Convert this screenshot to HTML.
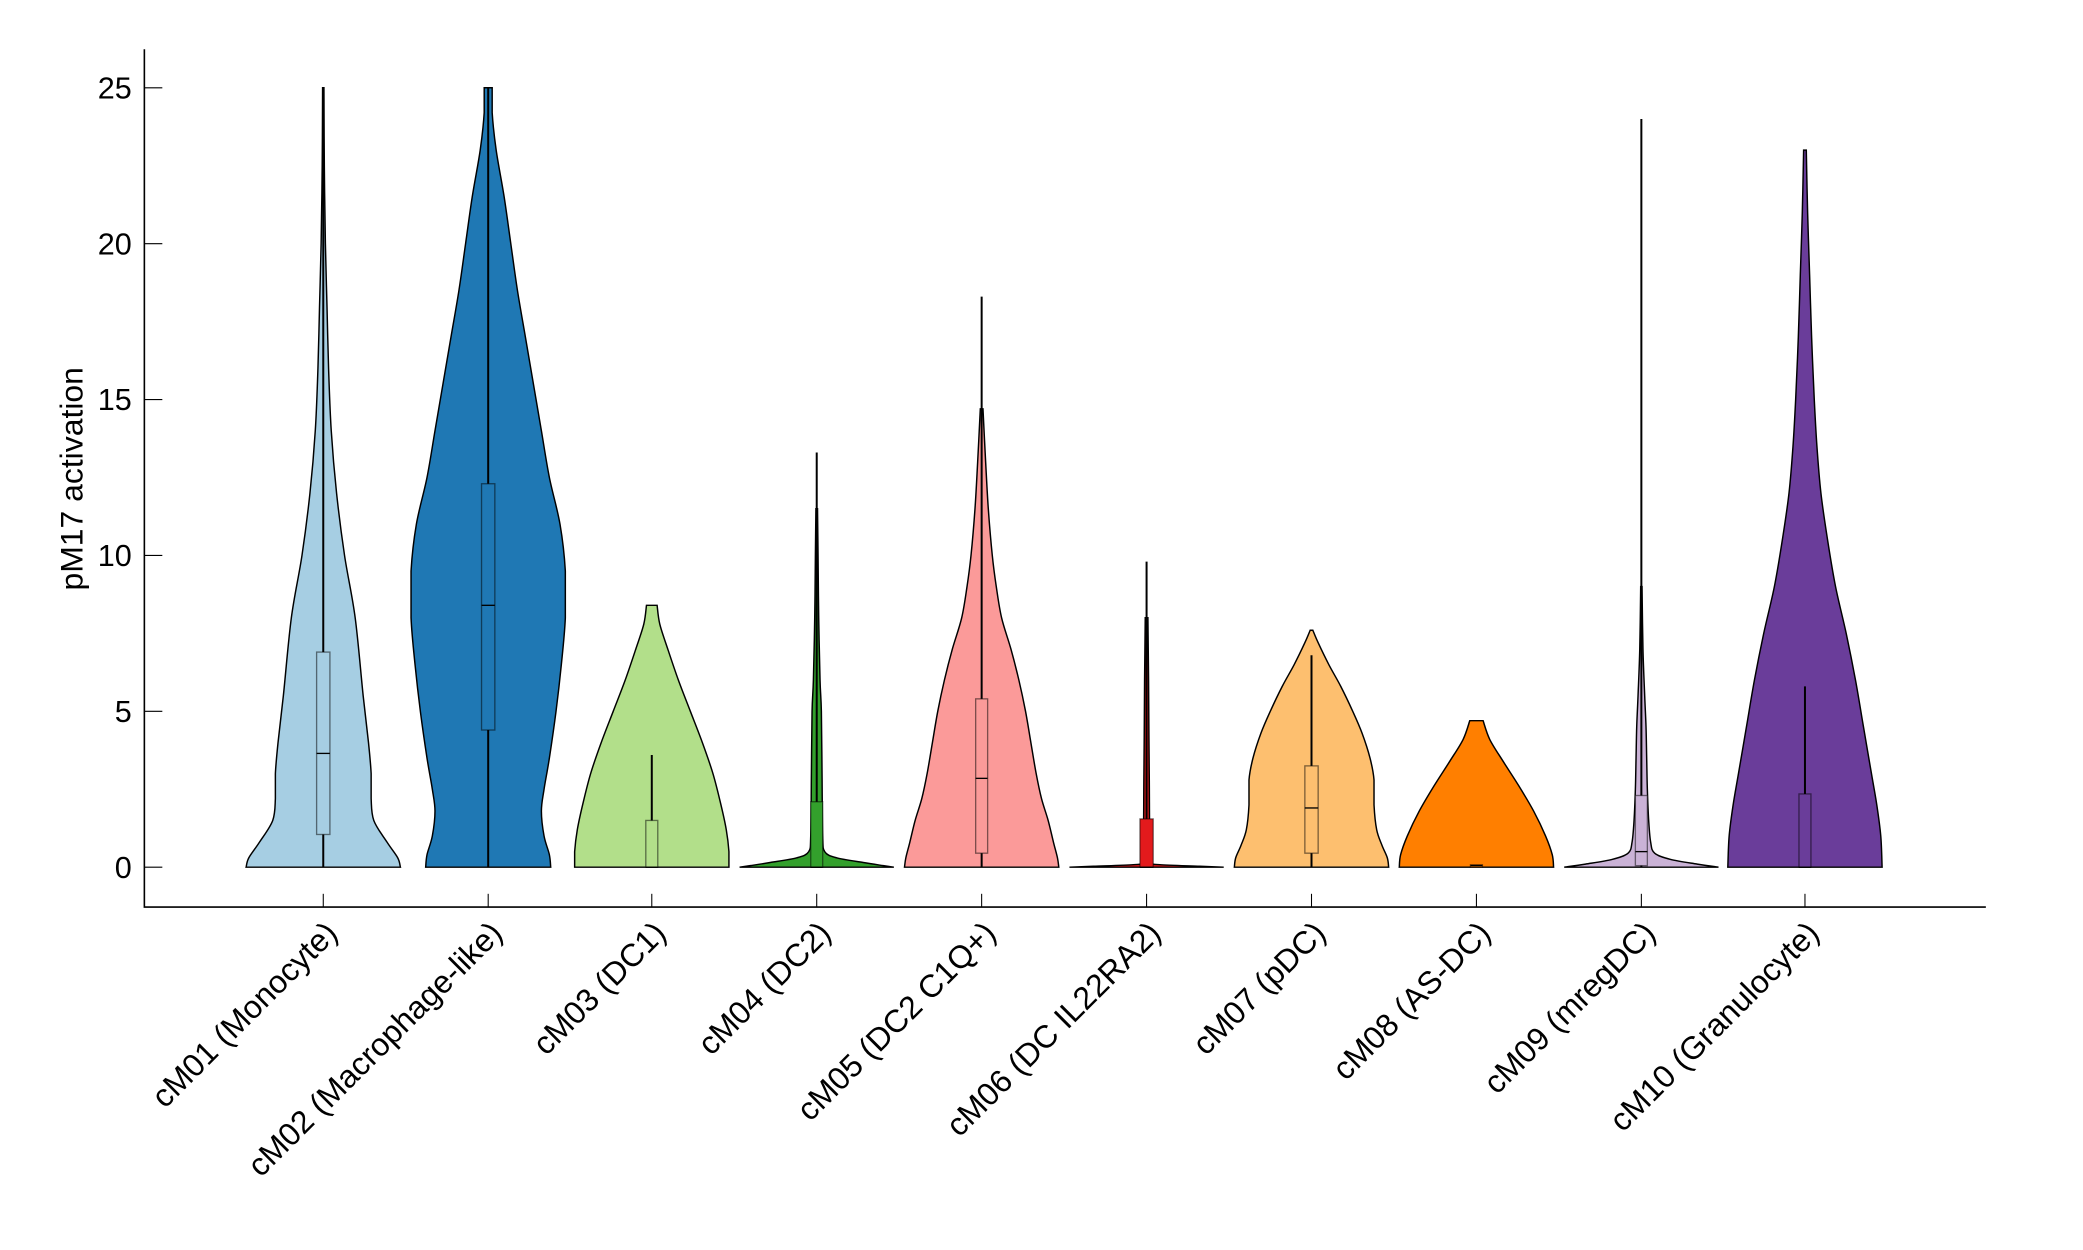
<!DOCTYPE html>
<html><head><meta charset="utf-8"><style>
html,body{margin:0;padding:0;background:#fff}
svg{display:block}
text{font-family:"Liberation Sans",Arial,sans-serif;fill:#000}
</style></head><body>
<svg id="s" width="2083" height="1250" viewBox="0 0 1566 939.8" xmlns="http://www.w3.org/2000/svg">
<g id="v"></g>
<g stroke="#000" stroke-width="1.2" fill="none">
<path d="M108.5 37 V682 H1493"/>
</g>
<text x="62" y="360" font-size="24" text-anchor="middle" transform="rotate(-90 62 360)">pM17 activation</text>
</svg>
<script>
function Y(v){return 652-v*23.44;}
var data=[
{c:243,col:"#a6cee3",p:[[0,58],[0.3,56],[0.8,48],[1.5,38],[2.2,36],[3,36],[4,34],[5.5,30],[8,24],[10,16],[12,10],[14,6],[16,4],[18,2.8],[20,1.6],[22.5,0.8],[25,0.5]],b:[1.05,3.65,6.9],w:[0,25],bw:5},
{c:367,col:"#1f78b4",p:[[0,47],[0.4,46],[1,42],[1.8,40],[2.5,42],[3.5,46],[5,51],[6.5,55],[8,58],[9.5,58],[11,54],[12.5,46],[14,40],[15.5,34],[17,28],[18.5,22],[20,17],[21.5,12],[23,6],[24.2,3],[25,3]],b:[4.4,8.4,12.3],w:[0,25],bw:5},
{c:490,col:"#b2df8a",p:[[0,58],[0.5,58],[1.2,56],[2,52],[3,46],[4,38],[5,29],[6,20],[7,12],[7.8,6],[8.4,4]],b:[0,0,1.5],w:[0,3.6],bw:4.5},
{c:614,col:"#33a02c",p:[[0,58],[0.05,50],[0.15,35],[0.3,15],[0.5,6],[1,4.5],[3,4],[5,3.5],[6,2.5],[8,1.5],[10,1],[11.5,0.6]],b:[0,0,2.1],w:[0,13.3],bw:4.5},
{c:738,col:"#fb9a99",p:[[0,58],[0.3,57],[0.8,54],[1.5,50],[2.2,45],[3,41],[4,37],[5,33],[6,28],[7,22],[8,15],[9,11],[10,8],[11.5,5],[13,3],[14.7,1]],b:[0.45,2.85,5.4],w:[0,18.3],bw:4.5},
{c:862,col:"#e31a1c",p:[[0,58],[0.03,40],[0.08,10],[0.15,3],[3,2],[6,1.5],[8,1]],b:[0,0,1.55],w:[0,9.8],bw:5},
{c:986,col:"#fdbf6f",p:[[0,58],[0.3,57],[0.7,53],[1.2,49],[2,47],[2.8,47],[3.5,44],[4.3,38],[5,31],[5.8,22],[6.5,13],[7.2,5],[7.6,1]],b:[0.45,1.9,3.25],w:[0,6.8],bw:5},
{c:1110,col:"#ff7f00",p:[[0,58],[0.4,57],[1,52],[1.8,43],[2.6,32],[3.4,20],[4.1,10],[4.7,5]],b:[0,0.05,0.08],w:[0,0.05],bw:4.5},
{c:1234,col:"#cab2d6",p:[[0,58],[0.1,42],[0.25,22],[0.45,10],[0.8,7],[1.5,5.5],[2.5,4.5],[3.5,4],[4.5,3.5],[5.5,2.5],[7,1.2],[9,0.5]],b:[0.05,0.5,2.3],w:[0,24],bw:4.5},
{c:1357,col:"#6a3d9a",p:[[0,58],[1,57],[2,54],[3,50],[4.5,44],[6,38],[7.5,31],[9,23],[10.5,17],[12,12],[13.5,9],[15,7],[17,5],[19,3.5],[21,2],[23,1]],b:[0,0,2.35],w:[0,5.8],bw:4.5}
];
var labels=["cM01 (Monocyte)","cM02 (Macrophage-like)","cM03 (DC1)","cM04 (DC2)","cM05 (DC2 C1Q+)","cM06 (DC IL22RA2)","cM07 (pDC)","cM08 (AS-DC)","cM09 (mregDC)","cM10 (Granulocyte)"];
function cl(v,a,b){var lo=Math.min(a,b),hi=Math.max(a,b);return Math.max(lo,Math.min(hi,v));}
function smooth(pts){var d="M"+pts[0][0]+" "+pts[0][1];for(var i=0;i<pts.length-1;i++){var p0=pts[i-1]||pts[i],p1=pts[i],p2=pts[i+1],p3=pts[i+2]||p2;
var c1=[cl(p1[0]+(p2[0]-p0[0])/6,p1[0],p2[0]),cl(p1[1]+(p2[1]-p0[1])/6,p1[1],p2[1])],c2=[cl(p2[0]-(p3[0]-p1[0])/6,p1[0],p2[0]),cl(p2[1]-(p3[1]-p1[1])/6,p1[1],p2[1])];
d+=" C"+c1[0].toFixed(2)+" "+c1[1].toFixed(2)+" "+c2[0].toFixed(2)+" "+c2[1].toFixed(2)+" "+p2[0].toFixed(2)+" "+p2[1].toFixed(2);}return d;}
var g=document.getElementById("v"),h="";
data.forEach(function(o,i){
 var r=o.p.map(function(q){return [o.c+q[1],Y(q[0])];});
 var l=o.p.slice().reverse().map(function(q){return [o.c-q[1],Y(q[0])];});
 var d=smooth(r)+" L"+(o.c-o.p[o.p.length-1][1])+" "+Y(o.p[o.p.length-1][0]);
 d+=smooth(l).replace(/^M[^C]*/,"")+" Z";
 h+='<path d="'+d+'" fill="'+o.col+'" stroke="#000" stroke-width="1.1"/>';
 h+='<line x1="'+o.c+'" x2="'+o.c+'" y1="'+Y(o.w[0])+'" y2="'+Y(o.w[1])+'" stroke="#000" stroke-width="1.5"/>';
 var b=o.b;
 h+='<rect x="'+(o.c-o.bw)+'" y="'+Y(b[2])+'" width="'+(2*o.bw)+'" height="'+(Y(b[0])-Y(b[2]))+'" fill="'+o.col+'" stroke="#000" stroke-opacity="0.5" stroke-width="1"/>';
 h+='<line x1="'+(o.c-o.bw)+'" x2="'+(o.c+o.bw)+'" y1="'+Y(b[1])+'" y2="'+Y(b[1])+'" stroke="#000" stroke-width="1"/>';
 h+='<line x1="'+o.c+'" x2="'+o.c+'" y1="682" y2="672" stroke="#000" stroke-width="0.8"/>';
 var tx=o.c+12,ty=703;
 h+='<text x="'+tx+'" y="'+ty+'" font-size="24" text-anchor="end" transform="rotate(-45 '+tx+' '+ty+')">'+labels[i]+'</text>';
});
for(var t=0;t<=25;t+=5){var y=Y(t);
 h+='<line x1="108.5" x2="122" y1="'+y+'" y2="'+y+'" stroke="#000" stroke-width="0.8"/>';
 h+='<text x="99" y="'+(y+8)+'" font-size="23" text-anchor="end">'+t+'</text>';}
g.innerHTML=h;
</script>
</body></html>
